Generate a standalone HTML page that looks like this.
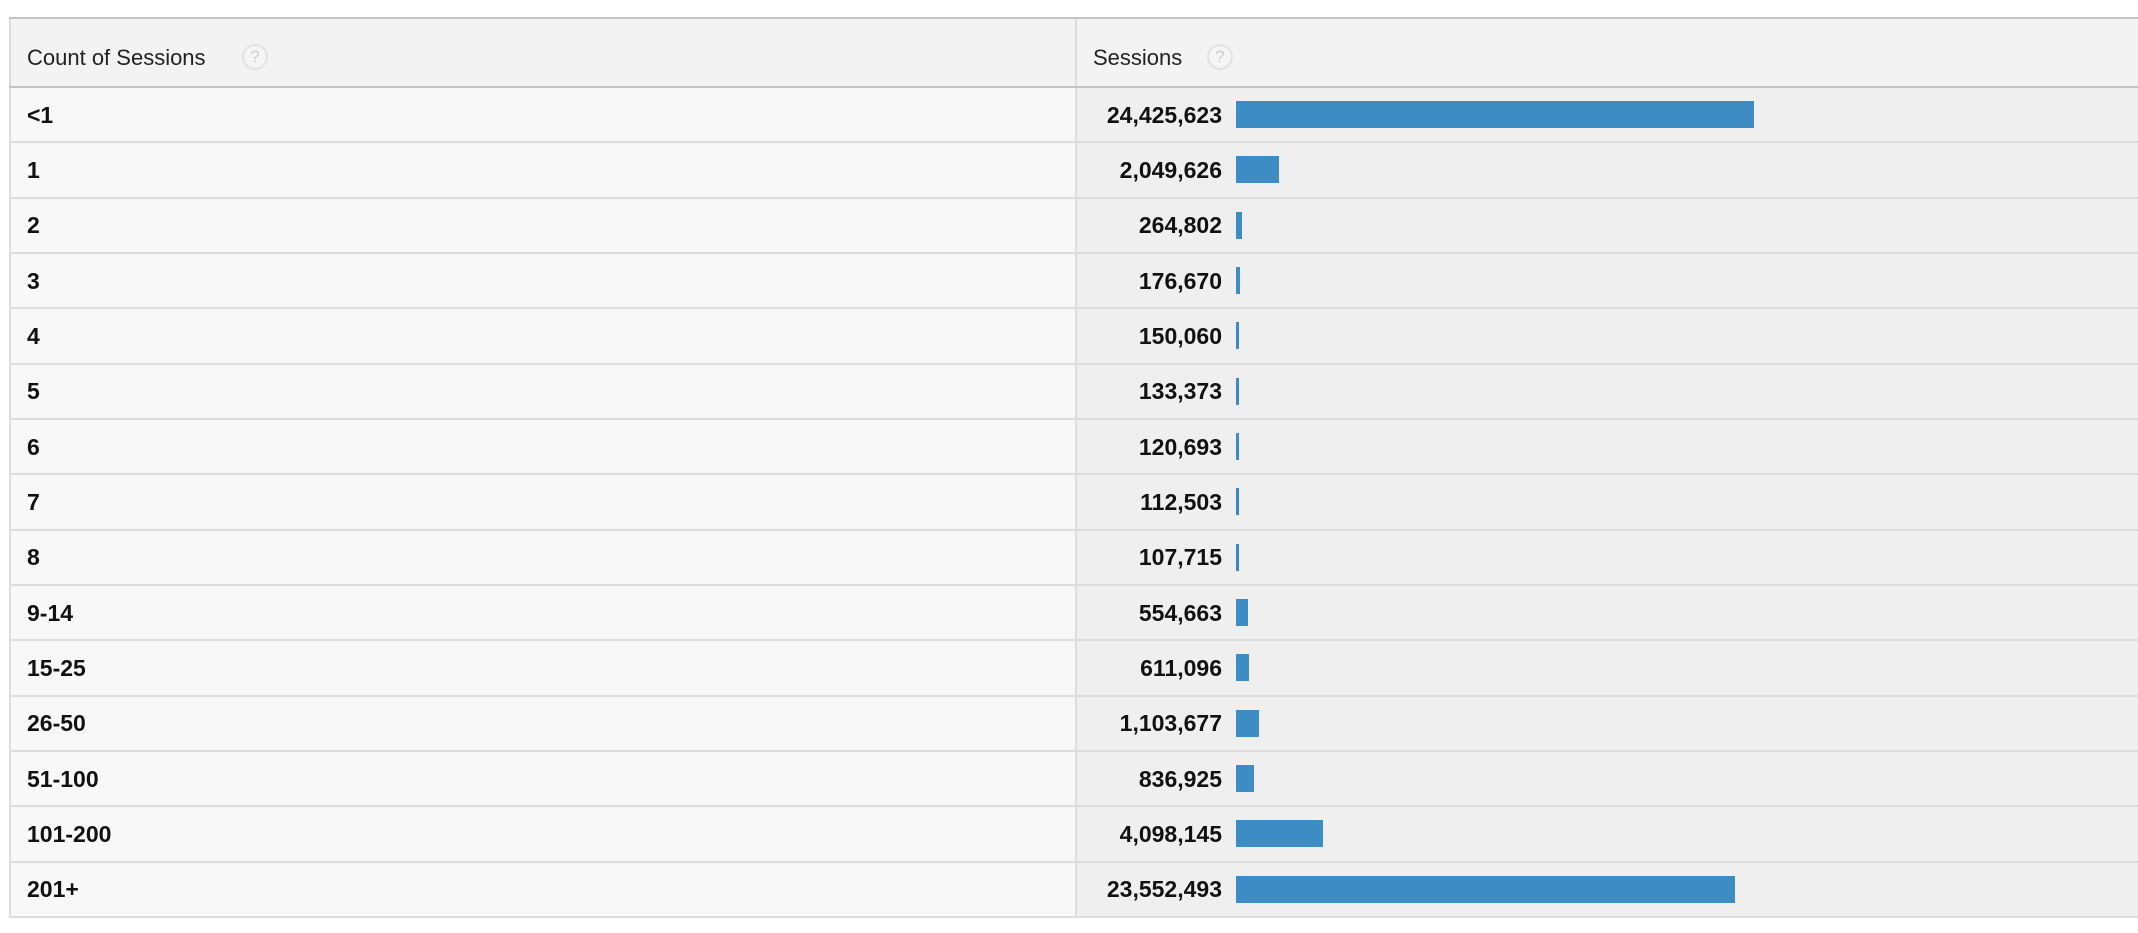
<!DOCTYPE html>
<html><head><style>
body{margin:0;width:2138px;height:933px;background:#fff;position:relative;overflow:hidden;font-family:"Liberation Sans",Arial,sans-serif;}
.a{position:absolute}
.hdr{left:9px;top:17px;width:2129px;height:67px;background:#f3f3f3;border-top:2px solid #c4c4c4;border-bottom:2px solid #c4c4c4;}
.l{left:9px;width:1066px;background:#f8f8f8;border-left:2px solid #ddd;}
.r{left:1075px;width:1063px;background:#efefef;border-left:2px solid #ddd;}
.line{left:9px;width:2129px;height:2px;background:#ddd}
.lab{left:27px;font-size:23px;font-weight:bold;color:#111;line-height:24px}
.num{right:916px;font-size:23px;font-weight:bold;color:#111;line-height:24px;text-align:right}
.bar{left:1236px;height:27px;background:#3d8cc4}
.ht{font-size:22px;color:#222;line-height:24px}
.q{width:26px;height:26px;border:2px solid #e2e2e2;border-radius:50%;color:#ccc;font-size:17px;text-align:center;line-height:22px;box-sizing:border-box;background:#f5f5f5}
</style></head><body>
<div class="a hdr"></div>
<div class="a" style="left:1075px;top:19px;width:2px;height:67px;background:#ddd"></div>
<div class="a" style="left:9px;top:19px;width:2px;height:67px;background:#ddd"></div>
<div class="a ht" style="left:27px;top:46px">Count of Sessions</div>
<div class="a q" style="left:242px;top:44px">?</div>
<div class="a ht" style="left:1093px;top:46px">Sessions</div>
<div class="a q" style="left:1207px;top:44px">?</div>
<div id="rows"></div>
<script>
var d=[["<1","24,425,623",518],["1","2,049,626",43],["2","264,802",6],["3","176,670",4],["4","150,060",3],["5","133,373",3],["6","120,693",3],["7","112,503",3],["8","107,715",3],["9-14","554,663",12],["15-25","611,096",13],["26-50","1,103,677",23],["51-100","836,925",18],["101-200","4,098,145",87],["201+","23,552,493",499]];
var h="";
for(var i=0;i<d.length;i++){
 var t=88+i*55.33,b=88+(i+1)*55.33;
 h+='<div class="a l" style="top:'+t+'px;height:'+(b-t)+'px"></div>';
 h+='<div class="a r" style="top:'+t+'px;height:'+(b-t)+'px"></div>';
 h+='<div class="a line" style="top:'+(b-2)+'px"></div>';
 var c=(t+b)/2-1;
 h+='<div class="a lab" style="top:'+(c-12)+'px">'+d[i][0].replace("<","&lt;")+'</div>';
 h+='<div class="a num" style="top:'+(c-12)+'px">'+d[i][1]+'</div>';
 h+='<div class="a bar" style="top:'+(c-13.5)+'px;width:'+d[i][2]+'px"></div>';
}
document.getElementById("rows").innerHTML=h;
</script>
</body></html>
